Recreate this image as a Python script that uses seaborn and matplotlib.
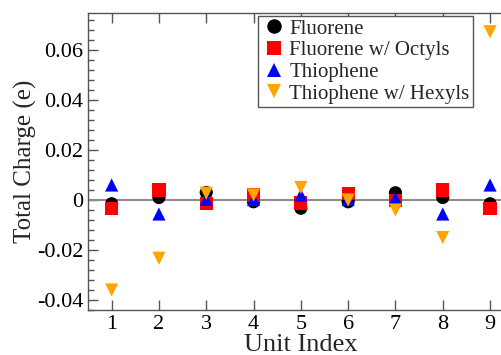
import numpy as np
import pandas as pd
import seaborn as sns
import matplotlib
matplotlib.use("Agg")
import matplotlib.pyplot as plt
from matplotlib.ticker import MultipleLocator

units = [1, 2, 3, 4, 5, 6, 7, 8, 9]
fluorene = [-0.0015, 0.001, 0.003, -0.0007, -0.0033, -0.0007, 0.0029, 0.001, -0.0015]
fluorene_octyls = [-0.0035, 0.004, -0.0013, 0.002, -0.0012, 0.0025, -0.0003, 0.004, -0.0035]
thiophene = [0.006, -0.0056, 0.0003, 0.0002, 0.002, 0.0002, 0.0007, -0.0056, 0.006]
thiophene_hexyls = [-0.036, -0.0233, 0.0027, 0.002, 0.005, 0.0, -0.004, -0.015, 0.0673]

series_names = ["Fluorene", "Fluorene w/ Octyls", "Thiophene", "Thiophene w/ Hexyls"]
series_values = [fluorene, fluorene_octyls, thiophene, thiophene_hexyls]
colors = ["black", "#ff0000", "#0000ff", "#ffa500"]
markers = ["o", "s", "^", "v"]

df = pd.DataFrame({
    "Unit Index": np.tile(units, len(series_names)),
    "Total Charge": np.concatenate(series_values),
    "Series": np.repeat(series_names, len(units)),
})

sns.set_style("ticks")
plt.rcParams["font.family"] = ["Liberation Serif", "DejaVu Serif"]

fig = plt.figure(figsize=(5.01, 3.55), dpi=100)
ax = fig.add_axes([88 / 501, 45 / 355, 425.7 / 501, 297 / 355])

ax.axhline(0, color="#8c8c8c", lw=1.5, zorder=1)

sns.scatterplot(
    data=df, x="Unit Index", y="Total Charge",
    hue="Series", style="Series",
    palette=dict(zip(series_names, colors)),
    markers=dict(zip(series_names, markers)),
    hue_order=series_names, style_order=series_names,
    s=90, linewidth=0, ax=ax, zorder=3,
)

old = ax.get_legend()
handles = list(old.legend_handles)
labels = [t.get_text() for t in old.get_texts()]
old.remove()
pairs = [(h, l) for h, l in zip(handles, labels) if l in series_names]
leg = ax.legend(
    [p[0] for p in pairs], [p[1] for p in pairs],
    loc="upper left", bbox_to_anchor=((258 - 88) / 425.7, 1 - 3 / 297),
    fontsize=15, frameon=True, fancybox=False, framealpha=1,
    edgecolor="#555555", handletextpad=0.15, labelspacing=0.1,
    borderpad=0.15, handlelength=1.2, borderaxespad=0, markerscale=1.1,
)
leg.get_frame().set_linewidth(1.0)

ax.set_xlim(0.5, 9.5)
ax.set_ylim(-0.044, 0.0748)
ax.xaxis.set_major_locator(MultipleLocator(1))
ax.yaxis.set_major_locator(MultipleLocator(0.02))
ax.yaxis.set_minor_locator(MultipleLocator(0.004))
ax.yaxis.set_major_formatter(matplotlib.ticker.FuncFormatter(
    lambda v, p: "0" if abs(v) < 1e-9 else f"{v:.2f}"))

ax.tick_params(which="both", direction="in", top=True, right=True,
               labelsize=16, colors="#555555", labelcolor="black")
ax.tick_params(which="major", length=7, width=1)
ax.tick_params(which="minor", length=4, width=1)
for s in ax.spines.values():
    s.set_color("#555555")
    s.set_linewidth(1.0)

ax.set_xlabel("Unit Index", fontsize=19, labelpad=0)
ax.set_ylabel("Total Charge (e)", fontsize=18, labelpad=0)

fig.savefig("out.png", dpi=100)
